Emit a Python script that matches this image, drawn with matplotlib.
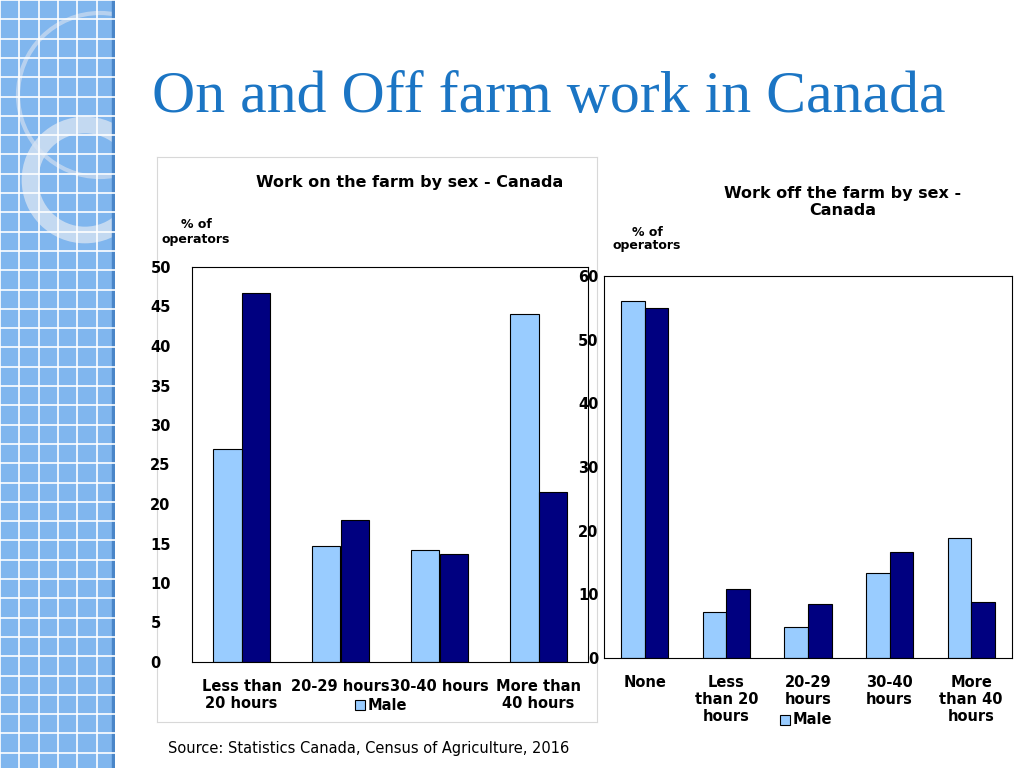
import numpy as np
import matplotlib.pyplot as plt
from matplotlib.patches import Rectangle, Circle

# data
on_cats = ["Less than\n20 hours", "20-29 hours", "30-40 hours", "More than\n40 hours"]
on_male = [27.0, 14.7, 14.2, 44.0]
on_female = [46.7, 18.0, 13.7, 21.5]

off_cats = ["None", "Less\nthan 20\nhours", "20-29\nhours", "30-40\nhours", "More\nthan 40\nhours"]
off_male = [56.0, 7.2, 4.8, 13.3, 18.9]
off_female = [55.0, 10.9, 8.5, 16.7, 8.8]

c_male = "#99CCFF"
c_female = "#000080"
fnt = "DejaVu Sans"

fig = plt.figure(figsize=(10.24, 7.68), dpi=100)

#------------------------------------------------------------------------------
# sidebar decoration
side = fig.add_axes([0, 0, 115/1024, 1])
side.set_xlim(0, 115)
side.set_ylim(768, 0)
side.set_aspect("auto")
side.axis("off")
side.add_patch(Rectangle((0, 0), 115, 768, color="#80B6EE"))
for g in np.arange(0, 768, 19.3):
    side.axhline(g, color="white", lw=1.2)
for g in np.arange(0, 115, 19.3):
    side.axvline(g, color="white", lw=1.2)
side.add_patch(Circle((100, 95), 82, fill=False, ec="#C5D9F0", lw=3, alpha=0.8))
side.add_patch(Circle((85, 180), 55, fill=False, ec="#D5E2F2", lw=12, alpha=0.8))
side.add_patch(Rectangle((112, 0), 4, 768, color="#4A86C8"))

#------------------------------------------------------------------------------
fig.text(152/1024, 1 - 98/768, "On and Off farm work in Canada", family="Liberation Serif",
         fontsize=43, color="#1B75C4", va="center", ha="left")

# left panel frame
fr = fig.add_axes([157/1024, 1 - 722/768, 440/1024, 565/768])
fr.set_xticks([]); fr.set_yticks([])
for s in fr.spines.values():
    s.set_color("#D8D8D8")
fr.patch.set_alpha(0)

w = 0.29
# left chart
ax1 = fig.add_axes([192/1024, 1 - 662/768, 396/1024, 395/768])
x = np.arange(len(on_cats))
ax1.bar(x - w/2, on_male, w, color=c_male, ec="black", lw=0.8, label="Male")
ax1.bar(x + w/2, on_female, w, color=c_female, ec="black", lw=0.8, label="Female")
ax1.set_xlim(-0.5, len(on_cats) - 0.5)
ax1.set_ylim(0, 50)
ax1.set_yticks(range(0, 51, 5))
ax1.set_xticks(x)
ax1.set_xticklabels(on_cats, fontsize=10.5, fontweight="bold", family=fnt)
ax1.tick_params(length=0, pad=12)
for t in ax1.get_yticklabels():
    t.set_fontweight("bold"); t.set_fontsize(10.5); t.set_ha("left")
ax1.tick_params(axis="y", pad=30)
fig.text(410/1024, 1 - 183/768, "Work on the farm by sex - Canada", ha="center", va="center",
         fontsize=11.5, fontweight="bold", family=fnt)
fig.text(196/1024, 1 - 232/768, "% of\noperators", ha="center", va="center",
         fontsize=9, fontweight="bold", family=fnt, linespacing=1.1)
fig.patches.append(Rectangle((355/1024, 1 - 710/768), 10/1024, 10/768, transform=fig.transFigure,
                             fc=c_male, ec="black", lw=0.8, figure=fig))
fig.text(368/1024, 1 - 705/768, "Male", va="center", fontsize=10.5, fontweight="bold", family=fnt)

# right chart
ax2 = fig.add_axes([604/1024, 1 - 658/768, 408/1024, 382/768])
x = np.arange(len(off_cats))
ax2.bar(x - w/2, off_male, w, color=c_male, ec="black", lw=0.8, label="Male")
ax2.bar(x + w/2, off_female, w, color=c_female, ec="black", lw=0.8, label="Female")
ax2.set_xlim(-0.5, len(off_cats) - 0.5)
ax2.set_ylim(0, 60)
ax2.set_yticks(range(0, 61, 10))
ax2.set_xticks(x)
ax2.set_xticklabels(off_cats, fontsize=10.5, fontweight="bold", family=fnt, va="top")
ax2.tick_params(length=0, pad=12)
ax2.tick_params(axis="y", pad=4)
for t in ax2.get_yticklabels():
    t.set_fontweight("bold"); t.set_fontsize(10.5)
fig.text(843/1024, 1 - 202/768, "Work off the farm by sex -\nCanada", ha="center", va="center",
         fontsize=11.5, fontweight="bold", family=fnt, linespacing=1.2)
fig.text(647/1024, 1 - 239/768, "% of\noperators", ha="center", va="center",
         fontsize=9, fontweight="bold", family=fnt, linespacing=1.1)
fig.patches.append(Rectangle((780/1024, 1 - 725/768), 10/1024, 10/768, transform=fig.transFigure,
                             fc=c_male, ec="black", lw=0.8, figure=fig))
fig.text(793/1024, 1 - 720/768, "Male", va="center", fontsize=10.5, fontweight="bold", family=fnt)

fig.text(168/1024, 1 - 749/768, "Source: Statistics Canada, Census of Agriculture, 2016",
         va="center", fontsize=10.5, family=fnt)

fig.savefig("out.png", dpi=100)
